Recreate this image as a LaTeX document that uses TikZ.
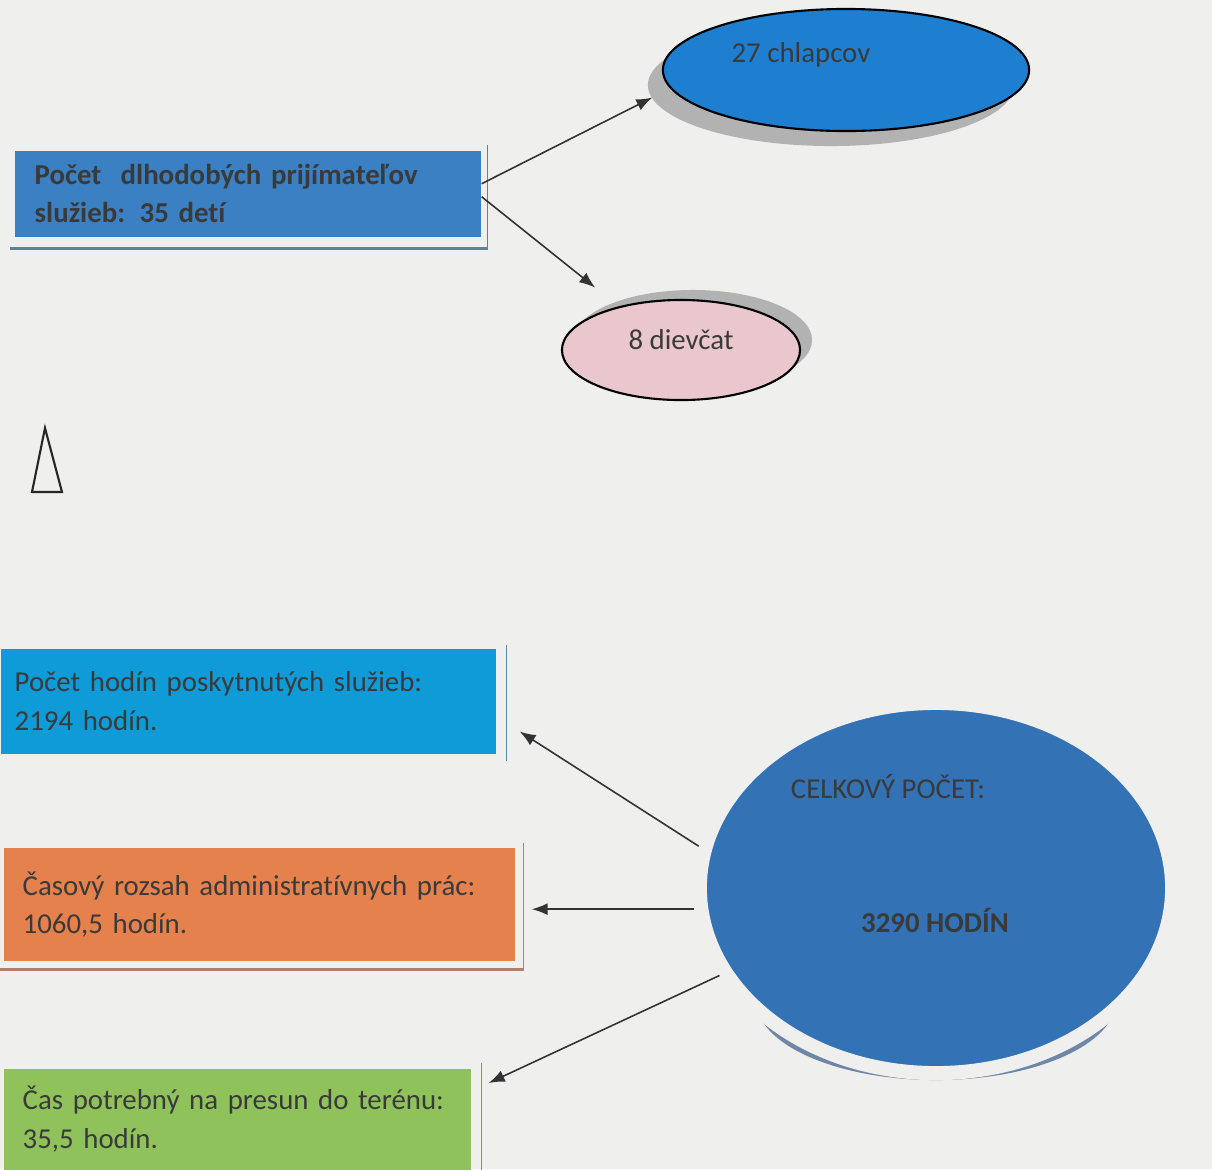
\documentclass[tikz,border=0pt]{standalone}
\usepackage{fontspec}
\setmainfont{Carlito}[Ligatures=NoCommon]
\usetikzlibrary{calc,arrows.meta,shapes.geometric}

\definecolor{papier}{HTML}{EFEFEE}
\definecolor{modra}{HTML}{3B80C3}
\definecolor{azurova}{HTML}{0E9BD8}
\definecolor{oranzova}{HTML}{E5814D}
\definecolor{zelena}{HTML}{8FC25B}
\definecolor{elmodra}{HTML}{1E7ED0}
\definecolor{ruzova}{HTML}{E9C7CC}
\definecolor{velka}{HTML}{3272B5}
\definecolor{velkatien}{HTML}{6F86A6}
\definecolor{pismo}{HTML}{3A3A3A}
\definecolor{sipkova}{HTML}{333333}

\tikzset{
  okno/.style={rectangle, anchor=north west, inner ysep=0pt, align=left, text=pismo,
    font=\fontsize{8.2}{11.2}\selectfont},
  bublina/.style={ellipse, inner sep=0pt, text=pismo, font=\fontsize{8.2}{11.2}\selectfont},
  sipka/.style={draw=sipkova, line width=0.45pt, -{Latex[length=1.6mm,width=1.2mm]}},
  tien/.style={line width=0.4pt},
}

\begin{document}
\begin{tikzpicture}[x=0.01cm, y=-0.01cm]
  % papier
  \fill[papier] (0,0) rectangle (1212,1169);
  \useasboundingbox (0,0) rectangle (1212,1169);

  % stredy elips
  \coordinate (c-chlapci) at (846,70);
  \coordinate (c-dievcata) at (681,350);
  \coordinate (c-celkovo) at (936,888);

  % tiene elips
  \fill[gray!60] ($(c-chlapci)+(-15,15)$) ellipse [x radius=1.83cm, y radius=0.61cm];
  \fill[gray!60] ($(c-dievcata)+(12,-10)$) ellipse [x radius=1.19cm, y radius=0.50cm];
  \begin{scope}
    \clip (700,1012) rectangle (1150,1100);
    \fill[velkatien] (936,1000) ellipse [x radius=1.80cm, y radius=0.80cm];
  \end{scope}

  % elipsy
  \node[bublina, fill=elmodra, draw=black, line width=0.6pt, minimum width=3.66cm, minimum height=1.22cm,
    label={[bublina, shift={(-0.45cm,0.15cm)}]center:{27 chlapcov}}] (chlapci) at (c-chlapci) {};
  \node[bublina, fill=ruzova, draw=black, line width=0.6pt, minimum width=2.38cm, minimum height=1.0cm,
    label={[bublina, shift={(0cm,0.1cm)}]center:{8 dievčat}}] (dievcata) at (c-dievcata) {};
  \node[bublina, fill=velka, draw=papier, line width=4pt, minimum width=4.72cm, minimum height=3.70cm,
    label={[bublina, shift={(-0.48cm,1.01cm)}]center:{CELKOVÝ POČET:}},
    label={[bublina, font=\fontsize{8.2}{11.2}\selectfont\bfseries, shift={(-0.01cm,-0.32cm)}]center:{3290 HODÍN}}]
    (celkovo) at (c-celkovo) {};

  % okna
  \node[okno, fill=modra, inner xsep=0.2cm, text width=4.26cm, minimum height=0.86cm,
    font=\fontsize{8.2}{10.8}\selectfont\bfseries] (prijem) at (14,150)
    {Počet\ \ dlhodobých prijímateľov\\služieb: 35 detí};
  \node[okno, fill=azurova, inner xsep=0.14cm, text width=4.67cm, minimum height=1.05cm] (hodiny) at (0,648)
    {Počet hodín poskytnutých služieb:\\2194 hodín.};
  \node[okno, fill=oranzova, inner xsep=0.19cm, text width=4.73cm, minimum height=1.13cm,
    font=\fontsize{8.2}{10.8}\selectfont] (admin) at (3,847)
    {Časový rozsah administratívnych prác:\\1060,5 hodín.};
  \node[okno, fill=zelena, inner xsep=0.19cm, text width=4.29cm, minimum height=1.01cm] (presun) at (3,1068)
    {Čas potrebný na presun do terénu:\\35,5 hodín.};

  % tiene okien
  \draw[tien, draw=modra!55!gray] ([xshift=.06cm,yshift=.05cm]prijem.north east) -- ([xshift=.06cm,yshift=-.12cm]prijem.south east);
  \draw[draw=modra!45!gray, line width=1.1pt] ([xshift=-.04cm,yshift=-.11cm]prijem.south west) -- ([xshift=.06cm,yshift=-.11cm]prijem.south east);
  \draw[tien, draw=azurova!40!gray] ([xshift=.1cm,yshift=.03cm]hodiny.north east) -- ([xshift=.1cm,yshift=-.07cm]hodiny.south east);
  \draw[tien, draw=oranzova!60!gray] ([xshift=.08cm,yshift=.04cm]admin.north east) -- ([xshift=.08cm,yshift=-.1cm]admin.south east);
  \draw[draw=oranzova!45!gray, line width=1.1pt] ([xshift=-.03cm,yshift=-.08cm]admin.south west) -- ([xshift=.08cm,yshift=-.08cm]admin.south east);
  \draw[tien, draw=zelena!30!gray] ([xshift=.1cm,yshift=.05cm]presun.north east) -- ([xshift=.1cm]presun.south east);

  % sipky
  \draw[sipka, shorten >=0.2cm] ([yshift=.1cm]prijem.east) -- (chlapci.186);
  \draw[sipka, shorten >=0.3cm] ([yshift=-.03cm]prijem.east) -- (dievcata.145);
  \draw[sipka] (celkovo.170) -- ($(hodiny.south east)+(23,-23)$);
  \draw[sipka] (celkovo.185.5) -- ($(celkovo.185.5 -| admin.east)+(16,0)$);
  \draw[sipka] (celkovo.202) -- ($(presun.north east)+(17,15)$);

  % trojuholnik
  \draw[line width=0.6pt, draw=black!85] (45,428) -- (32,492) -- (62,492) -- cycle;
\end{tikzpicture}
\end{document}
